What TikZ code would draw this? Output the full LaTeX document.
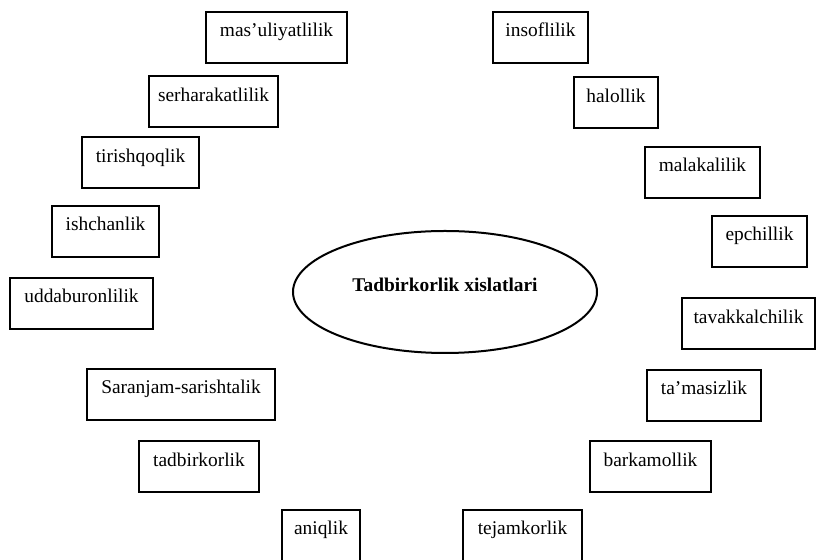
\documentclass[tikz,border=0pt]{standalone}
\usepackage{fontspec}
\setmainfont{Liberation Serif}
\usetikzlibrary{shapes.geometric, positioning}

\tikzset{
  trait/.style={draw, line width=1pt, inner xsep=0pt, inner ysep=5pt,
    text height=7.5pt, text depth=8pt, font=\fontsize{9.7}{11}\selectfont},
}

\begin{document}
\begin{tikzpicture}[x=0.5pt, y=-0.5pt]
        \clip (0,0) rectangle (816,560);
        \useasboundingbox (0,0) rectangle (816,560);

        % Centre
        \node[ellipse, draw, line width=1pt, minimum width=152pt, minimum height=61pt,
          text height=7pt, text depth=7pt, font=\fontsize{9.7}{11}\selectfont\bfseries]
          (centre) at (445,292) {Tadbirkorlik xislatlari};

        % Left side
        \node[trait, minimum width=70.5pt] (masuliyat) at (276.5,37.5) {mas'uliyatlilik};
        \node[trait, minimum width=64.5pt] (serharakat) at (213.5,102) {serharakatlilik};
        \node[trait, minimum width=58.5pt] (tirishqoq) at (140.5,163) {tirishqoqlik};
        \node[trait, minimum width=53.5pt] (ishchan) at (105.5,231.5) {ishchanlik};
        \node[trait, minimum width=71.5pt] (uddaburon) at (81.5,303.5) {uddaburonlilik};
        \node[trait, minimum width=94pt] (saranjam) at (181,394.5) {Saranjam-sarishtalik};
        \node[trait, minimum width=60pt] (tadbirkor) at (199,467) {tadbirkorlik};
        % runs off the bottom edge
        \node[trait, minimum width=39pt, text depth=13pt] (aniq) at (321,540.5) {aniqlik};

        % Right side
        \node[trait, minimum width=47.5pt] (insof) at (540.5,37.5) {insoflilik};
        \node[trait, minimum width=42pt] (halol) at (616,103) {halollik};
        \node[trait, minimum width=57.5pt] (malaka) at (702.5,172.5) {malakalilik};
        \node[trait, minimum width=47.5pt] (epchil) at (759.5,241.5) {epchillik};
        \node[trait, minimum width=66.5pt] (tavakkal) at (748.5,324) {tavakkalchilik};
        \node[trait, minimum width=57pt] (tamasiz) at (704,395.5) {ta'masizlik};
        \node[trait, minimum width=60.5pt] (barkamol) at (650.5,467) {barkamollik};
        \node[trait, minimum width=59.5pt, text depth=13pt] (tejamkor) at (522.5,540.5) {tejamkorlik};
\end{tikzpicture}
\end{document}
